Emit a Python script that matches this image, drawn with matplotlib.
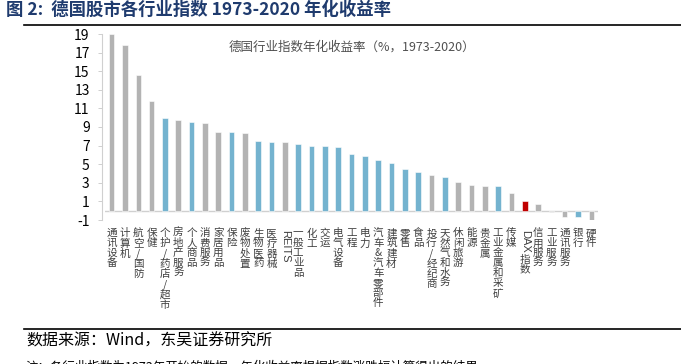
import numpy as np
import matplotlib
matplotlib.use("Agg")
import matplotlib.pyplot as plt

plt.rcParams['font.family'] = ['Noto Sans CJK SC', 'DejaVu Sans']

# data
industries = ['通讯设备', '计算机', '航空/国防', '保健', '个护/药店/超市', '房地产服务',
              '个人商品', '消费服务', '家居用品', '保险', '废物处置', '生物医药',
              '医疗器械', 'REITS', '一般工业品', '化工', '交运', '电气设备', '工程',
              '电力', '汽车&汽车零部件', '建筑建材', '零售', '食品', '投行/经纪商',
              '天然气和水务', '休闲旅游', '能源', '贵金属', '工业金属和采矿', '传媒',
              'DAX指数', '信用服务', '工业服务', '通讯服务', '银行', '硬件']
returns = [18.95, 17.85, 14.55, 11.75, 9.95, 9.7, 9.55, 9.4, 8.45, 8.45, 8.35,
           7.5, 7.4, 7.38, 7.12, 6.95, 6.92, 6.9, 6.12, 5.87, 5.5, 5.1, 4.45,
           4.13, 3.8, 3.62, 3.05, 2.73, 2.7, 2.62, 1.94, 1.0, 0.75, -0.1, -0.65,
           -0.7, -1.07]
# g = gray, b = blue, r = DAX
groups = ['g', 'g', 'g', 'g', 'b', 'g', 'b', 'g', 'g', 'b', 'g', 'b', 'b', 'g',
          'b', 'b', 'b', 'b', 'b', 'b', 'b', 'b', 'b', 'b', 'g', 'b', 'g', 'g',
          'g', 'b', 'g', 'r', 'g', 'g', 'g', 'b', 'g']
yticks = list(range(-1, 20, 2))

palette = {'g': '#b3b3b3', 'b': '#74b3cf', 'r': '#c00000'}
txt = '#404040'

fig = plt.figure(figsize=(6.81, 3.64), dpi=100)
ax = fig.add_axes([105 / 681, 1 - 220 / 364, 493 / 681, 186 / 364])

x = np.arange(len(industries))
ax.bar(x, returns, width=0.42, color=[palette[g] for g in groups],
       edgecolor='white', linewidth=0.4, zorder=2)
ax.axhline(0, color='#d0d0d0', lw=1, zorder=1)

ax.set_xlim(-0.5, len(industries) - 0.5)
ax.set_ylim(-1, 19)
ax.set_yticks(yticks)
ax.set_yticklabels([str(t) for t in yticks], family='Liberation Sans',
                   fontsize=8.5, color=txt)
ax.tick_params(axis='y', length=3, width=0.6, color='#c8c8c8', pad=6)
ax.set_xticks([])
for s in ['top', 'right', 'bottom']:
    ax.spines[s].set_visible(False)
ax.spines['left'].set_color('#d0d0d0')
ax.spines['left'].set_linewidth(0.8)
ax.spines['left'].set_position(('outward', 2))

ax.text(0.5, 0.93, '德国行业指数年化收益率（%，1973-2020）', transform=ax.transAxes,
        ha='center', va='center', fontsize=9, color='#505050')

# vertical (stacked) category labels
for i, name in enumerate(industries):
    if name == 'REITS':
        ax.annotate('REITS', (i, 0), xycoords=('data', 'axes fraction'),
                    xytext=(0, -7), textcoords='offset points', rotation=-90,
                    ha='center', va='top', fontsize=8, color=txt,
                    family='Liberation Sans')
        continue
    if name.startswith('DAX'):
        ax.annotate('DAX', (i, 0), xycoords=('data', 'axes fraction'),
                    xytext=(0, -7), textcoords='offset points', rotation=-90,
                    ha='center', va='top', fontsize=8, color=txt,
                    family='Liberation Sans')
        ax.annotate('\n'.join(name[3:]), (i, 0), xycoords=('data', 'axes fraction'),
                    xytext=(0, -25), textcoords='offset points',
                    ha='center', va='top', fontsize=7.6, color=txt, linespacing=1.0)
        continue
    ax.annotate('\n'.join(name), (i, 0), xycoords=('data', 'axes fraction'),
                xytext=(0, -6), textcoords='offset points',
                ha='center', va='top', fontsize=7.6, color=txt, linespacing=1.0)

# header / footer of the report page
fig.text(6 / 681, 1 - 10 / 364, '图 2:  德国股市各行业指数 1973-2020 年化收益率',
         fontsize=12.5, fontweight='bold', color='#1f3b6e', va='center', ha='left')
fig.add_artist(plt.Line2D([24 / 681, 1], [1 - 25 / 364] * 2, color='black', lw=1.2))
fig.add_artist(plt.Line2D([24 / 681, 1], [1 - 329 / 364] * 2, color='black', lw=1.2))
fig.text(26 / 681, 1 - 341 / 364, '数据来源：Wind，东吴证券研究所',
         fontsize=11.5, color='black', va='center', ha='left')
fig.text(26 / 681, 1 - 367 / 364, '注：各行业指数为1973年开始的数据，年化收益率根据指数涨跌幅计算得出的结果',
         fontsize=9, color='black', va='center', ha='left')

fig.savefig('out.png', dpi=100)
